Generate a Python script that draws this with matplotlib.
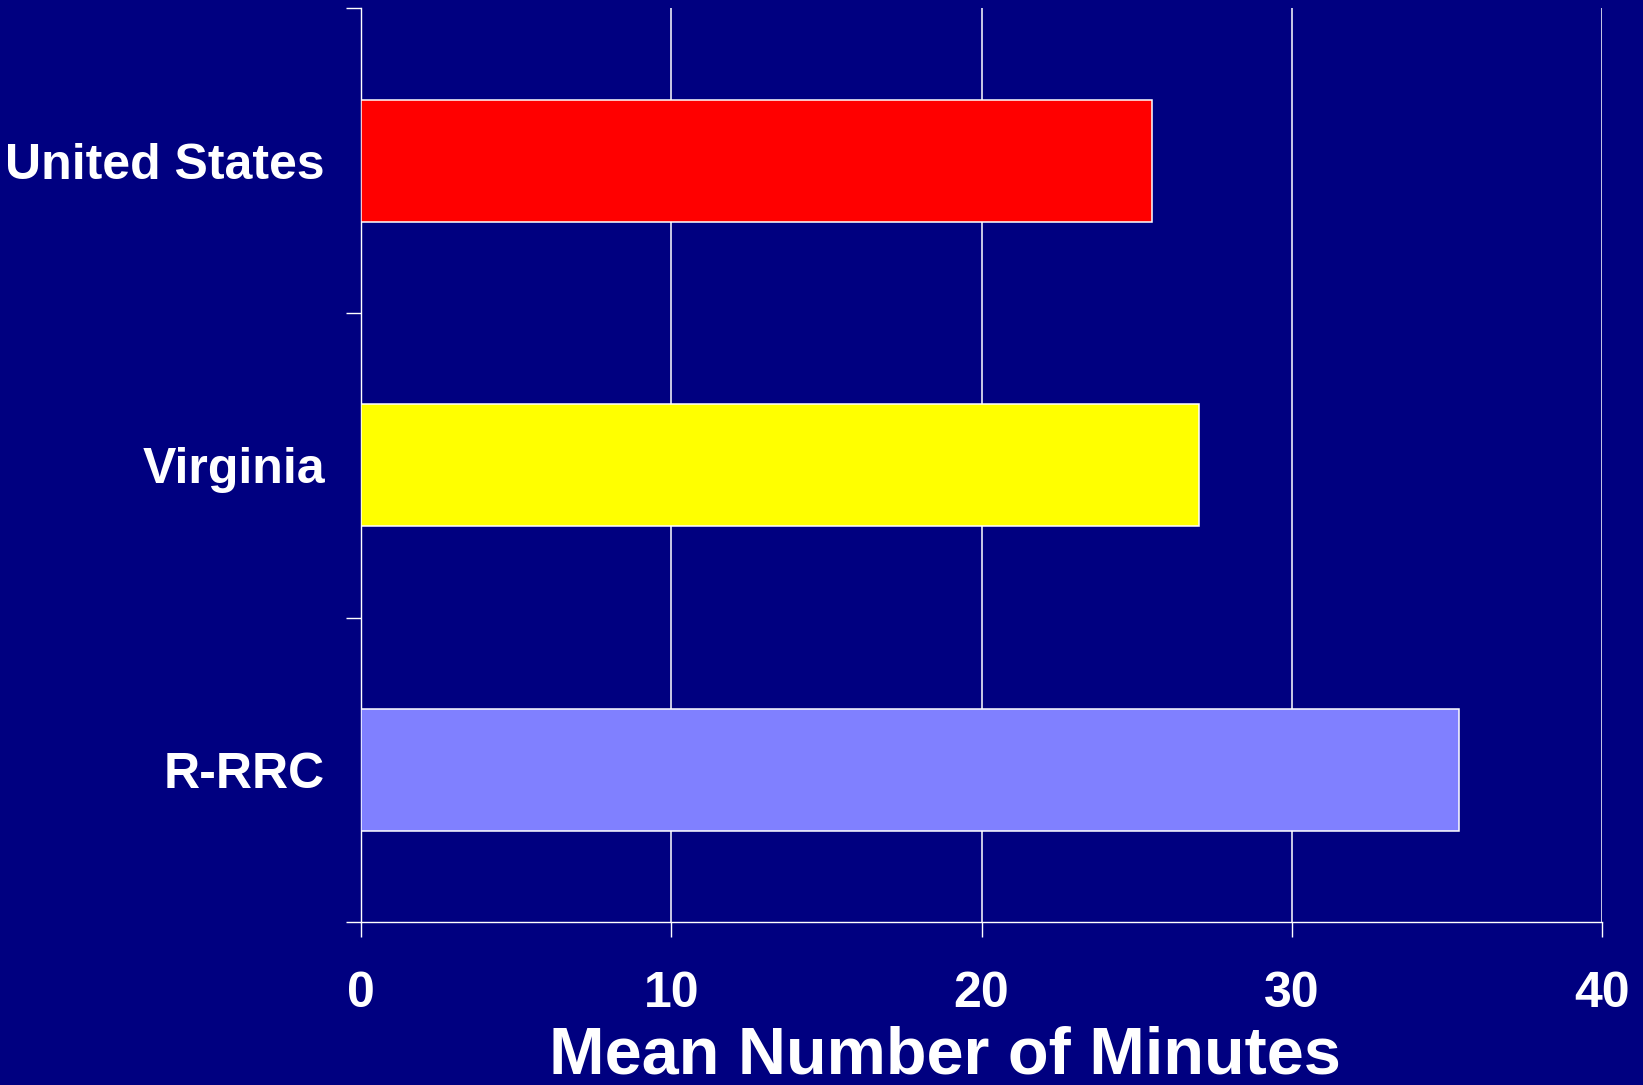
import matplotlib
matplotlib.use("Agg")
import matplotlib.pyplot as plt
from matplotlib.ticker import FixedLocator

categories = ["United States", "Virginia", "R-RRC"]
values = [25.5, 27.0, 35.4]
bar_colors = ["#FF0000", "#FFFF00", "#8080FF"]
x_ticks = [0, 10, 20, 30, 40]
x_label = "Mean Number of Minutes"

BG = "#000080"
FG = "white"

plt.rcParams["font.family"] = ["Liberation Sans", "DejaVu Sans"]
plt.rcParams["font.weight"] = "bold"

fig = plt.figure(figsize=(16.43, 10.85), dpi=100, facecolor=BG)
ax = fig.add_axes([361 / 1643, 1 - 922.3 / 1085, (1602 - 361) / 1643, (922.3 - 8.3) / 1085])
ax.set_facecolor(BG)

ypos = list(range(len(categories)))
ax.barh(ypos, values, height=0.4, color=bar_colors, edgecolor=FG, linewidth=1.1, zorder=3)

ax.set_xlim(0, 40)
ax.set_ylim(len(categories) - 0.5, -0.5)

ax.set_xticks(x_ticks)
ax.set_xticklabels([str(t) for t in x_ticks])
ax.xaxis.grid(True, color=FG, linewidth=1.1, zorder=0)
ax.set_axisbelow(True)

# category boundaries as major y ticks, labels on minor ticks
ax.yaxis.set_major_locator(FixedLocator([i - 0.5 for i in range(len(categories) + 1)]))
ax.yaxis.set_major_formatter(plt.NullFormatter())
ax.yaxis.set_minor_locator(FixedLocator(ypos))
ax.set_yticklabels(categories, minor=True)

ax.tick_params(axis="y", which="major", direction="out", length=10.8, width=1.0, color=FG)
ax.tick_params(axis="y", which="minor", length=0, pad=26, labelsize=36, labelcolor=FG)
ax.tick_params(axis="x", which="major", direction="out", length=10.8, width=1.0, color=FG,
               pad=24, labelsize=36, labelcolor=FG)

for lab in ax.get_yticklabels(minor=True) + ax.get_xticklabels():
    lab.set_fontweight("bold")

for side in ["top", "right"]:
    ax.spines[side].set_visible(False)
for side in ["left", "bottom"]:
    ax.spines[side].set_color(FG)
    ax.spines[side].set_linewidth(1.0)

ax.set_xlabel(x_label, fontsize=48, fontweight="bold", color=FG)
ax.xaxis.label.set_verticalalignment("top")
ax.xaxis.set_label_coords((945 - 361) / (1602 - 361), -(1026 - 922.3) / (922.3 - 8.3))

fig.savefig("out.png", dpi=100, facecolor=BG)
